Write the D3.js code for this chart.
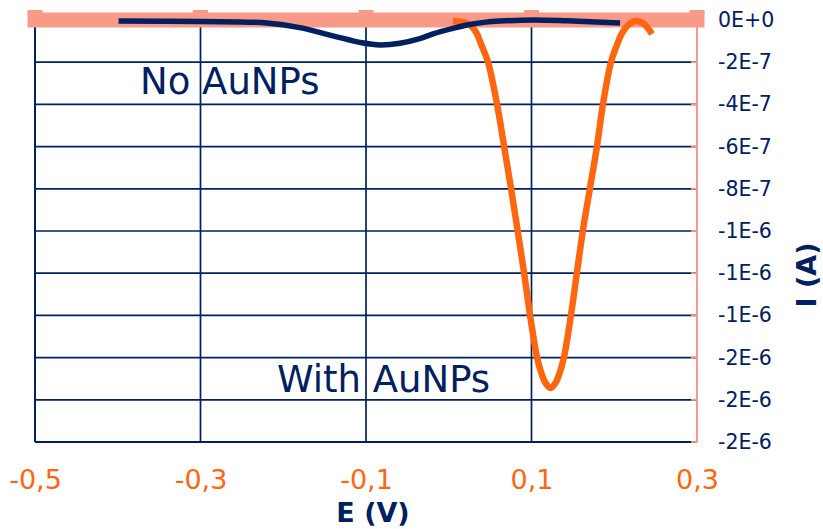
<!DOCTYPE html>
<html>
<head>
<meta charset="utf-8">
<script src="https://cdn.jsdelivr.net/npm/d3@7"></script>
<style>
  html, body { margin: 0; padding: 0; background: #ffffff; }
  svg { display: block; font-family: "DejaVu Sans", Verdana, sans-serif; }
</style>
</head>
<body>
<svg id="chart" width="823" height="529"></svg>
<script>
// ---- data ----
const xTicks = [-0.5, -0.3, -0.1, 0.1, 0.3];
const xTickLabels = ["-0,5", "-0,3", "-0,1", "0,1", "0,3"];
const yTicks = [0, -2e-7, -4e-7, -6e-7, -8e-7, -1e-6, -1.2e-6, -1.4e-6, -1.6e-6, -1.8e-6, -2e-6];
const yTickLabels = ["0E+0", "-2E-7", "-4E-7", "-6E-7", "-8E-7", "-1E-6", "-1E-6", "-1E-6", "-2E-6", "-2E-6", "-2E-6"];

// No AuNPs (E in V, I in A)
const noE = [-0.399, -0.30, -0.22, -0.18, -0.14, -0.105, -0.083, -0.059, -0.035, -0.019, 0.005, 0.022, 0.045, 0.062, 0.102, 0.143, 0.207];
const noI = [-0.005e-6, -0.007e-6, -0.014e-6, -0.036e-6, -0.075e-6, -0.108e-6, -0.118e-6, -0.110e-6, -0.088e-6, -0.066e-6, -0.040e-6, -0.024e-6, -0.010e-6, -0.005e-6, 0, -0.004e-6, -0.014e-6];

// With AuNPs
const withE = [0.0051, 0.0172, 0.0257, 0.0329, 0.0390, 0.0474, 0.0583, 0.0668, 0.0752, 0.0831, 0.0909, 0.0982, 0.1066, 0.1115, 0.1169, 0.1230, 0.1290, 0.1344, 0.1393, 0.1477, 0.1550, 0.1622, 0.1707, 0.1792, 0.1864, 0.1961, 0.2033, 0.2094, 0.2166, 0.2251, 0.2335, 0.2396, 0.2456];
const withI = [-0.005e-6, -0.010e-6, -0.024e-6, -0.057e-6, -0.114e-6, -0.199e-6, -0.398e-6, -0.597e-6, -0.796e-6, -0.995e-6, -1.194e-6, -1.398e-6, -1.597e-6, -1.668e-6, -1.720e-6, -1.744e-6, -1.720e-6, -1.668e-6, -1.597e-6, -1.398e-6, -1.194e-6, -0.995e-6, -0.796e-6, -0.597e-6, -0.398e-6, -0.199e-6, -0.118e-6, -0.062e-6, -0.024e-6, -0.005e-6, -0.012e-6, -0.033e-6, -0.066e-6];

// ---- styles ----
const NAVY = "#002060";
const ORANGE = "#FF6610";
const SALMON = "#F89A87";

const svg = d3.select("#chart");
const x = d3.scaleLinear().domain([-0.5, 0.3]).range([35, 697]);
const y = d3.scaleLinear().domain([-2e-6, 0]).range([442, 20]);

// horizontal grid
svg.append("g").selectAll("line").data(yTicks.slice(1, -1)).join("line")
  .attr("x1", x(-0.5)).attr("x2", x(0.3))
  .attr("y1", d => y(d)).attr("y2", d => y(d))
  .attr("stroke", NAVY).attr("stroke-width", 1.7);

// vertical grid
svg.append("g").selectAll("line").data(xTicks.slice(1, -1)).join("line")
  .attr("x1", d => x(d)).attr("x2", d => x(d))
  .attr("y1", y(0)).attr("y2", y(-2e-6))
  .attr("stroke", NAVY).attr("stroke-width", 1.7);

// left axis & bottom line
svg.append("line").attr("x1", x(-0.5)).attr("x2", x(-0.5)).attr("y1", y(0)).attr("y2", y(-2e-6))
  .attr("stroke", NAVY).attr("stroke-width", 2);
svg.append("line").attr("x1", x(-0.5)).attr("x2", x(0.3)).attr("y1", y(-2e-6)).attr("y2", y(-2e-6))
  .attr("stroke", NAVY).attr("stroke-width", 2.2);

// right axis (salmon) with inner ticks
svg.append("line").attr("x1", x(0.3)).attr("x2", x(0.3)).attr("y1", y(0)).attr("y2", y(-2e-6))
  .attr("stroke", SALMON).attr("stroke-width", 2);
svg.append("g").selectAll("line").data(yTicks).join("line")
  .attr("x1", x(0.3) - 6).attr("x2", x(0.3))
  .attr("y1", d => y(d)).attr("y2", d => y(d))
  .attr("stroke", SALMON).attr("stroke-width", 1.8);

// right tick labels
const yAxis = d3.axisRight(y).tickValues(yTicks)
  .tickFormat((d, i) => yTickLabels[i]).tickSize(0).tickPadding(0);
const gy = svg.append("g").attr("transform", `translate(718,0)`).call(yAxis);
gy.select(".domain").remove();
gy.selectAll("text").attr("fill", NAVY).attr("font-size", 20.5)
  .attr("font-family", "DejaVu Sans, sans-serif").attr("x", 0);

// bottom tick labels
const xAxis = d3.axisBottom(x).tickValues(xTicks)
  .tickFormat((d, i) => xTickLabels[i]).tickSize(0).tickPadding(0);
const gx = svg.append("g").attr("transform", `translate(0,0)`).call(xAxis);
gx.select(".domain").remove();
gx.selectAll("text").attr("fill", ORANGE).attr("font-size", 27)
  .attr("font-family", "DejaVu Sans, sans-serif").attr("y", 489).attr("dy", 0);

// top salmon band (x axis at I = 0)
svg.append("line").attr("x1", x(-0.5)).attr("x2", x(0.3)).attr("y1", y(0)).attr("y2", y(0))
  .attr("stroke", SALMON).attr("stroke-width", 15).attr("stroke-linecap", "square");
svg.append("g").selectAll("rect").data(xTicks).join("rect")
  .attr("x", d => x(d) - 7.5).attr("width", 15)
  .attr("y", y(0) - 10).attr("height", 4)
  .attr("fill", SALMON);

// curves
const line = d3.line().curve(d3.curveCatmullRom.alpha(0.5))
  .x(d => x(d[0])).y(d => y(d[1]));
svg.append("path").datum(withE.map((e, i) => [e, withI[i]]))
  .attr("d", line).attr("fill", "none").attr("stroke", ORANGE).attr("stroke-width", 6.5);
svg.append("path").datum(noE.map((e, i) => [e, noI[i]]))
  .attr("d", line).attr("fill", "none").attr("stroke", NAVY).attr("stroke-width", 5.5);

// annotations
svg.append("text").attr("x", 140).attr("y", 94).attr("fill", NAVY)
  .attr("font-size", 37).text("No AuNPs");
svg.append("text").attr("x", 277).attr("y", 392).attr("fill", NAVY)
  .attr("font-size", 37).text("With AuNPs");

// axis titles
svg.append("text").attr("x", 373).attr("y", 522).attr("text-anchor", "middle")
  .attr("fill", NAVY).attr("font-size", 27).attr("font-weight", "bold").text("E (V)");
svg.append("text").attr("transform", "translate(816,275) rotate(-90)")
  .attr("text-anchor", "middle").attr("fill", NAVY).attr("font-size", 27)
  .attr("font-weight", "bold").text("I (A)");
</script>
</body>
</html>
